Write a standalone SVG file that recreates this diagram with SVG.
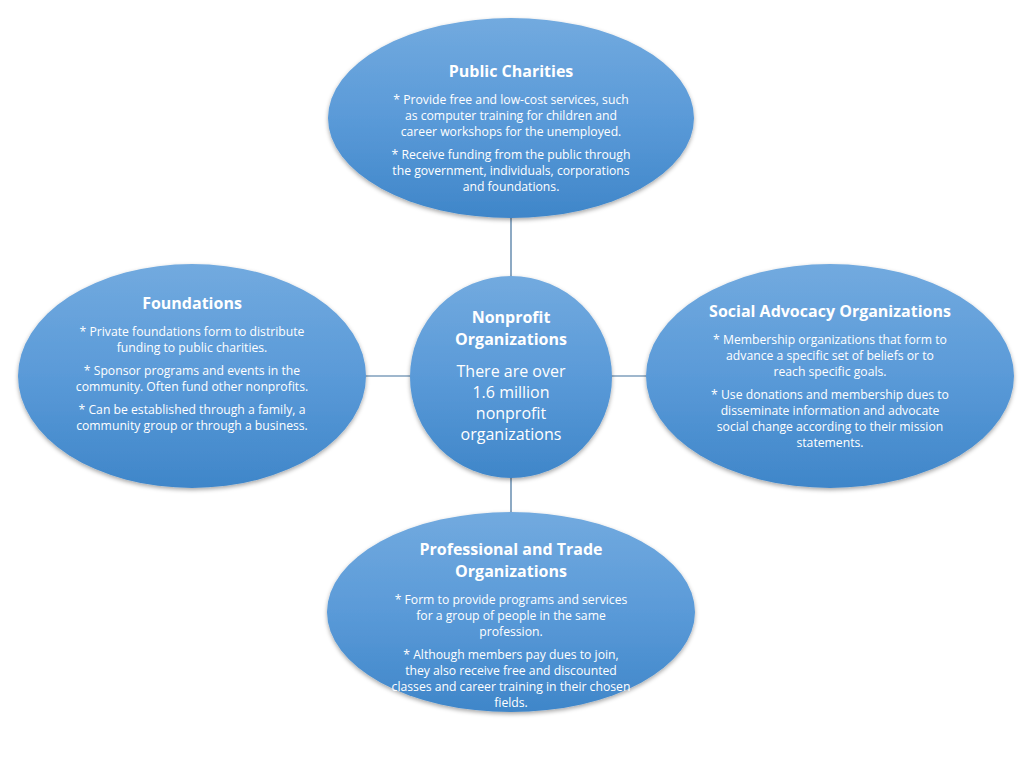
<svg xmlns="http://www.w3.org/2000/svg" width="1029" height="757" viewBox="0 0 1029 757">
<defs>
<linearGradient id="g" x1="0" y1="0" x2="0" y2="1">
<stop offset="0" stop-color="#72aadf"/>
<stop offset="0.5" stop-color="#5a9ad8"/>
<stop offset="1" stop-color="#3f86c9"/>
</linearGradient>
<filter id="sh" x="-10%" y="-10%" width="120%" height="125%">
<feDropShadow dx="0" dy="2" stdDeviation="2" flood-color="#000" flood-opacity="0.35"/>
</filter>
</defs>
<style>
.n{fill:url(#g);filter:url(#sh)}
.t{font-family:"Open Sans","Liberation Sans",sans-serif;font-weight:bold;font-size:16px;fill:#fff;text-anchor:middle}
.b{font-family:"Open Sans","Liberation Sans",sans-serif;font-size:12.2px;fill:#fff;text-anchor:middle}
.c{font-family:"Open Sans","Liberation Sans",sans-serif;font-size:16px;fill:#fff;text-anchor:middle}
.l{stroke:#41719c;stroke-width:1.2}
</style>
<rect width="1029" height="757" fill="#fff"/>
<g id="connectors">
<line class="l" x1="511" y1="218" x2="511" y2="276"/>
<line class="l" x1="366" y1="376" x2="411" y2="376"/>
<line class="l" x1="611" y1="376" x2="646" y2="376"/>
<line class="l" x1="511" y1="476" x2="511" y2="512"/>
</g>
<g id="public-charities">
<ellipse class="n" cx="511" cy="118" rx="183" ry="100"/>
<text class="t" x="511" y="77">Public Charities</text>
<text class="b" x="511" y="104">* Provide free and low-cost services, such</text>
<text class="b" x="511" y="120">as computer training for children and</text>
<text class="b" x="511" y="136">career workshops for the unemployed.</text>
<text class="b" x="511" y="159">* Receive funding from the public through</text>
<text class="b" x="511" y="175">the government, individuals, corporations</text>
<text class="b" x="511" y="191">and foundations.</text>
</g>
<g id="foundations">
<ellipse class="n" cx="192" cy="376" rx="174" ry="112"/>
<text class="t" x="192" y="309">Foundations</text>
<text class="b" x="192" y="336">* Private foundations form to distribute</text>
<text class="b" x="192" y="352">funding to public charities.</text>
<text class="b" x="192" y="375">* Sponsor programs and events in the</text>
<text class="b" x="192" y="391">community. Often fund other nonprofits.</text>
<text class="b" x="192" y="414">* Can be established through a family, a</text>
<text class="b" x="192" y="430">community group or through a business.</text>
</g>
<g id="nonprofit">
<circle class="n" cx="511" cy="377" r="101"/>
<text class="t" x="511" y="323">Nonprofit</text>
<text class="t" x="511" y="345">Organizations</text>
<text class="c" x="511" y="377">There are over</text>
<text class="c" x="511" y="398">1.6 million</text>
<text class="c" x="511" y="419">nonprofit</text>
<text class="c" x="511" y="440">organizations</text>
</g>
<g id="social-advocacy">
<ellipse class="n" cx="830" cy="376" rx="184" ry="112"/>
<text class="t" x="830" y="317">Social Advocacy Organizations</text>
<text class="b" x="830" y="344">* Membership organizations that form to</text>
<text class="b" x="830" y="360">advance a specific set of beliefs or to</text>
<text class="b" x="830" y="376">reach specific goals.</text>
<text class="b" x="830" y="399">* Use donations and membership dues to</text>
<text class="b" x="830" y="415">disseminate information and advocate</text>
<text class="b" x="830" y="431">social change according to their mission</text>
<text class="b" x="830" y="447">statements.</text>
</g>
<g id="professional-trade">
<ellipse class="n" cx="511" cy="612" rx="184" ry="100"/>
<text class="t" x="511" y="555">Professional and Trade</text>
<text class="t" x="511" y="577">Organizations</text>
<text class="b" x="511" y="604">* Form to provide programs and services</text>
<text class="b" x="511" y="620">for a group of people in the same</text>
<text class="b" x="511" y="636">profession.</text>
<text class="b" x="511" y="659">* Although members pay dues to join,</text>
<text class="b" x="511" y="675">they also receive free and discounted</text>
<text class="b" x="511" y="691">classes and career training in their chosen</text>
<text class="b" x="511" y="707">fields.</text>
</g>
</svg>
